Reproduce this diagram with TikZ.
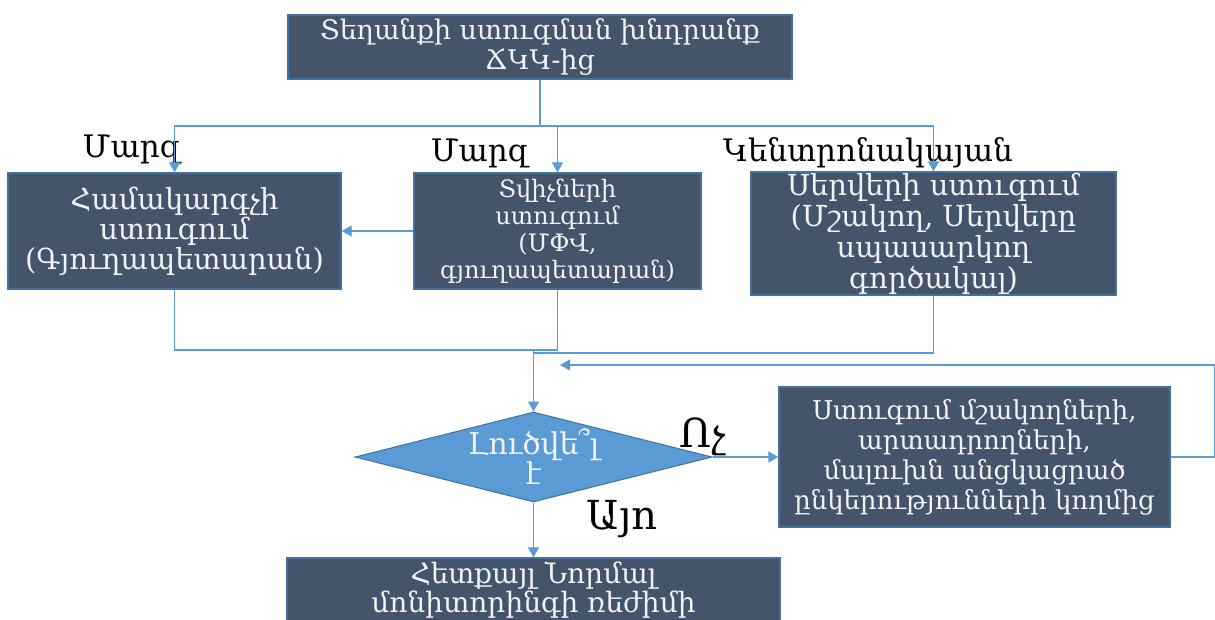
\documentclass[tikz,border=0pt]{standalone}
\usepackage{fontspec}
\setmainfont{DejaVu Serif}
\usetikzlibrary{arrows.meta,shapes.geometric}
\definecolor{boxfill}{HTML}{44546A}
\definecolor{boxedge}{HTML}{41719C}
\definecolor{linkblue}{HTML}{5B9BD5}
\definecolor{boxtext}{HTML}{F2F2F2}
\tikzset{
  procbox/.style={draw=boxedge, line width=1.4pt, fill=boxfill, text=boxtext,
    align=center, inner sep=0pt, font=\fontsize{27}{30}\selectfont},
  decision/.style={diamond, draw=boxedge, line width=1pt, fill=linkblue, text=boxtext,
    align=center, inner sep=0pt, font=\fontsize{30}{25}\selectfont},
  link/.style={draw=linkblue, line width=1.2pt},
  arrowlink/.style={link, -{Triangle[length=10pt,width=11pt]}},
  tag/.style={text=black, inner sep=0pt, font=\fontsize{31}{34}\selectfont},
  bigtag/.style={tag, font=\fontsize{40}{44}\selectfont},
}
\begin{document}
\begin{tikzpicture}[x=1pt,y=-1pt]
\clip (0,0) rectangle (1215,619);
\fill[white] (0,0) rectangle (1215,619);

% process boxes
\node[procbox, minimum width=504pt, minimum height=64pt] (req) at (540,47)
  {Տեղանքի ստուգման խնդրանք\\ՃԿԿ-ից};
\node[procbox, minimum width=333pt, minimum height=116pt,
  font=\fontsize{29}{30}\selectfont] (pc) at (174.5,231)
  {Համակարգչի\\ստուգում\\(Գյուղապետարան)};
\node[procbox, minimum width=287pt, minimum height=116pt,
  font=\fontsize{24}{27}\selectfont] (sens) at (557.5,231)
  {Տվիչների\\ստուգում\\(ՄՓՎ,\\գյուղապետարան)};
\node[procbox, minimum width=365pt, minimum height=123pt,
  font=\fontsize{29}{31}\selectfont] (srv) at (933.5,233.5)
  {Սերվերի ստուգում\\(Մշակող, Սերվերը\\սպասարկող\\գործակալ)};
\node[decision, minimum width=357pt, minimum height=90pt, aspect=3.97] (ok) at (533.5,457)
  {Լուծվե՞լ\\է};
\node[procbox, minimum width=391pt, minimum height=140pt,
  font=\fontsize{26}{30}\selectfont] (ext) at (974.5,457)
  {Ստուգում մշակողների,\\արտադրողների,\\մալուխն անցկացրած\\ընկերությունների կողմից};
\node[procbox, minimum width=493pt, minimum height=64pt,
  font=\fontsize{28}{26}\selectfont] (norm) at (533.5,590)
  {Հետքայլ Նորմալ\\մոնիտորինգի ռեժիմի};

% labels
\node[tag] (l1) at (132,149) {Մարզ};
\node[tag] (l2) at (480,153) {Մարզ};
\node[tag] (l3) at (868,153) {Կենտրոնակայան};
\node[bigtag] (lno) at (703,437) {Ոչ};
\node[bigtag] (lyes) at (622,519) {Այո};

% junction points
\coordinate (split) at (540,126);
\coordinate (joinA) at (557.5,350);
\coordinate (joinB) at (533.5,353);
\coordinate (back) at (560,365);

% connectors
\draw[link] (req.south) -- (split);
\draw[arrowlink] (split) -| (pc.north);
\draw[arrowlink] (split) -| (sens.north);
\draw[arrowlink] (split) -| (srv.north);
\draw[arrowlink] (sens.west) -- (pc.east);
\draw[link] (pc.south) |- (joinA);
\draw[link] (sens.south) -- (joinA);
\draw[link] (srv.south) |- (joinB);
\draw[arrowlink] (joinA -| joinB) -- (ok.north);
\draw[arrowlink] (ok.east) -- (ext.west);
\draw[arrowlink] (ext.east) -- ++(44,0) |- (back);
\draw[arrowlink] (ok.south) -- (norm.north);
\end{tikzpicture}
\end{document}
